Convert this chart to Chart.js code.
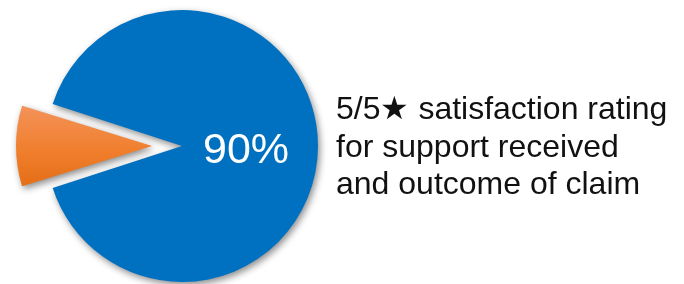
<!DOCTYPE html>
<html>
<head>
<meta charset="utf-8">
<script src="https://cdn.jsdelivr.net/npm/chart.js@4/dist/chart.umd.min.js"></script>
<style>
  html, body { margin: 0; padding: 0; background: #ffffff; }
  #wrap { position: relative; width: 684px; height: 284px; overflow: hidden; }
  #c { position: absolute; left: 0; top: 0; }
  #pct { position: absolute; left: 203px; top: 126.5px; font-family: "Liberation Sans", Arial, sans-serif; font-size: 43px; line-height: 43px; color: #ffffff; white-space: nowrap; }
  #caption { position: absolute; left: 336px; top: 90.2px; font-family: "Liberation Sans", Arial, sans-serif; font-size: 32px; line-height: 37.5px; color: #111111; white-space: nowrap; }
</style>
</head>
<body>
<div id="wrap">
  <canvas id="c" width="684" height="284"></canvas>
  <div id="pct"></div>
  <div id="caption"></div>
</div>
<script>
const categories = ["Satisfied (5/5)", "Other"];
const shares = [90, 10];
const sliceColors = ["#0070C0", "#EE7B30"];
const explode = [0, 30];
const centerLabel = "90%";
const captionLines = ["5/5\u2605 satisfaction rating", "for support received", "and outcome of claim"];

document.getElementById('pct').textContent = centerLabel;
document.getElementById('caption').innerHTML = captionLines.map(s => s.replace(/&/g,'&amp;').replace(/</g,'&lt;')).join('<br>');

// Chart.js v4 translates an arc by offset/4 and grows its radius by
// (offset/4)*(1 - sin(circumference)); undo the radius growth so the
// exploded slice keeps the pie's radius.
const keepRadiusPlugin = {
  id: 'keepRadius',
  afterDatasetUpdate(chart, args) {
    const meta = args.meta;
    meta.data.forEach((arc, i) => {
      const off = (explode[i] || 0);
      if (!off) return;
      const fix = 1 - Math.sin(Math.min(Math.PI, arc.circumference || 0));
      arc.outerRadius -= off * fix;
    });
  }
};

const shadowPlugin = {
  id: 'shadow',
  beforeDatasetDraw(chart) {
    const ctx = chart.ctx;
    ctx.save();
    ctx.shadowColor = 'rgba(0,0,0,0.45)';
    ctx.shadowBlur = 7;
    ctx.shadowOffsetX = 2;
    ctx.shadowOffsetY = 3;
  },
  afterDatasetDraw(chart) {
    chart.ctx.restore();
  }
};

function sliceFill(context) {
  const i = context.dataIndex;
  if (i === 1) {
    const ctx = context.chart.ctx;
    const g = ctx.createLinearGradient(0, 105, 0, 195);
    g.addColorStop(0, '#F4935A');
    g.addColorStop(0.5, '#F07F2E');
    g.addColorStop(1, '#E36A10');
    return g;
  }
  return sliceColors[i];
}

new Chart(document.getElementById('c'), {
  type: 'pie',
  data: {
    labels: categories,
    datasets: [{
      data: shares,
      backgroundColor: sliceFill,
      borderWidth: 0,
      offset: explode.map(v => v * 4),
      hoverOffset: 0,
      radius: 136,
      clip: false
    }]
  },
  options: {
    responsive: false,
    devicePixelRatio: 1,
    animation: false,
    rotation: -72,
    layout: { padding: { left: 0, right: 320, top: 8, bottom: 0 } },
    plugins: { legend: { display: false }, tooltip: { enabled: false } },
    events: []
  },
  plugins: [keepRadiusPlugin, shadowPlugin]
});
</script>
</body>
</html>
